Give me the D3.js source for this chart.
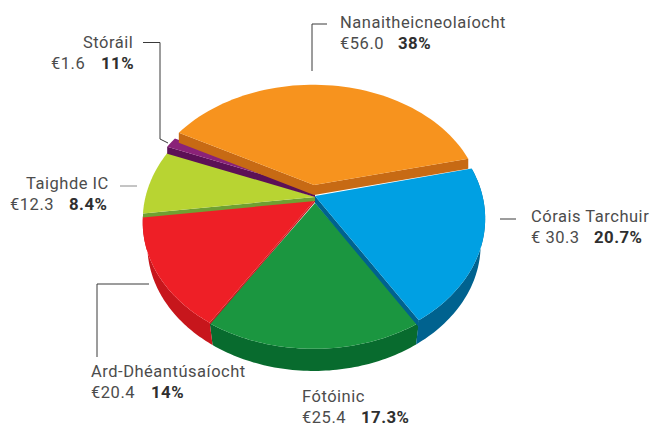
<!DOCTYPE html>
<html><head><meta charset="utf-8">
<script src="https://cdn.jsdelivr.net/npm/d3@7"></script>
<style>html,body{margin:0;padding:0;background:#fff}svg{display:block}
text{font-family:Roboto,sans-serif;font-size:16.5px;fill:#4c4c4c;letter-spacing:.52px}
.pct{font-weight:700;fill:#2f2f2f;letter-spacing:.45px;font-size:16.8px}
</style></head><body>
<script>
const categories=["Nanaitheicneolaíocht","Córais Tarchuir","Fótóinic","Ard-Dhéantúsaíocht","Taighde IC","Stóráil"];
const values=[56.0,30.3,25.4,20.4,12.3,1.6];
const valueLabels=["€56.0","€ 30.3","€25.4","€20.4","€12.3","€1.6"];
const percentLabels=["38%","20.7%","17.3%","14%","8.4%","11%"];
const topColors=["#F7931E","#00A0E3","#1B9640","#EE1F26","#B8D432","#8A2278"];
const wallColors=["#C76A14","#00628F","#086B2E","#C7161C","#6FA032","#5C1056"];

// layout of the perspective pie
const W=652,H=425,k=-0.177,m=0.006;
const startDeg=-63;
const apexY=[185,196,203,200,197,190];
const apexX=[314,315,315,315,315,315];
const radX=[166,168.5,168.5,168.5,168.5,170];
const radY=[118,124.5,120,122.5,126,120];
const hasWall=[0,1,1,1,0,0];
const edgeStart=[10,0,0,2,4,7];
const edgeEnd=[10,7,0,0,0,0];
const nudgeStart=[1.5,1.5,-1.5,-0.5,0,-0.5];
const nudgeEnd=[1.5,-1.5,-0.5,0,0,0.5];
const drawOrder=[2,3,4,5,1,0];
const base={x:315,y:222.7,A:164,B:122};
const rad=d=>d*Math.PI/180;

const svg=d3.select("body").append("svg").attr("width",W).attr("height",H);
const pie=d3.pie().sort(null).startAngle(rad(startDeg)).endAngle(rad(startDeg+360));
const arcs=pie(values);
const proj=(a,g)=>{const u=Math.sin(a),v=-Math.cos(a),d=1+k*v+m*u;return [g.x+g.A*u/d,g.y+g.B*v/d];};
const sample=(a0,a1,g)=>d3.range(0,61).map(i=>proj(a0+(a1-a0)*i/60,g));
const line=d3.line();
const poly=p=>line(p)+"Z";

const gPie=svg.append("g");
drawOrder.forEach(i=>{
  const s=arcs[i],g={x:apexX[i],y:apexY[i],A:radX[i],B:radY[i]},a=[g.x,g.y];
  const a0=s.startAngle+rad(nudgeStart[i]),a1=s.endAngle+rad(nudgeEnd[i]);
  if(hasWall[i]){
    const t=sample(a0,a1,g),b=sample(a0,a1,base).reverse();
    gPie.append("path").attr("d",poly(t.concat(b))).attr("fill",wallColors[i]);
  }
  [[edgeStart[i],a0],[edgeEnd[i],a1]].forEach(([h,ang])=>{
    if(!h)return;
    const c=proj(ang,g);
    gPie.append("path").attr("d",poly([a,c,[c[0],c[1]+h],[a[0],a[1]+h]])).attr("fill",wallColors[i]);
  });
  gPie.append("path").attr("d",poly([a].concat(sample(a0,a1,g)))).attr("fill",topColors[i]);
});

// leader lines
const leaders=[
 [[312,71],[312,24],[327,24]],
 [[500,219],[516,219]],
 [[149,284],[97,284],[97,357]],
 [[120,186],[137,186]],
 [[143,42.5],[160,42.5],[160,139],[168,143]]
];
const leaderColors=["#3a3a3a","#3a3a3a","#3a3a3a","#8a8a8a","#3a3a3a"];
leaders.forEach((l,i)=>svg.append("path").attr("d",line(l)).attr("fill","none")
  .attr("stroke",leaderColors[i]).attr("stroke-width",1));

// labels
const labelPos=[
 {nx:340,ny:28,vx:340,vy:49,px:398},
 {nx:531,ny:222,vx:531,vy:243,px:594},
 {nx:302,ny:402,vx:302,vy:422.5,px:361},
 {nx:91,ny:377,vx:91,vy:398,px:151},
 {nx:26,ny:189,vx:10,vy:210,px:69},
 {nx:83,ny:48,vx:51,vy:69,px:101}
];
categories.forEach((c,i)=>{
  const p=labelPos[i];
  svg.append("text").attr("x",p.nx).attr("y",p.ny).text(c);
  svg.append("text").attr("x",p.vx).attr("y",p.vy).text(valueLabels[i]);
  svg.append("text").attr("class","pct").attr("x",p.px).attr("y",p.vy).text(percentLabels[i]);
});
</script></body></html>
